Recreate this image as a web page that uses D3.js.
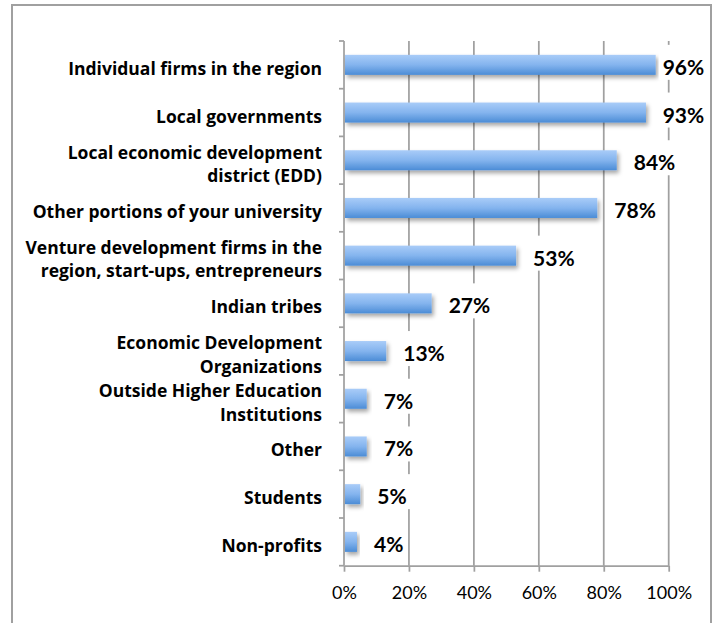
<!DOCTYPE html>
<html>
<head>
<meta charset="utf-8">
<script src="https://cdn.jsdelivr.net/npm/d3@7/dist/d3.min.js"></script>
<style>
  html, body { margin: 0; padding: 0; background: #fff; }
  svg { display: block; }
  text { font-family: Lato, "Open Sans", sans-serif; fill: #000; }
  text.cat { font-family: "Open Sans", Lato, sans-serif; }
</style>
</head>
<body>
<svg id="chart" width="716" height="623"></svg>
<script>
// Partner types (line breaks mark wrapped labels) and share of respondents
const categories = [
  "Individual firms in the region",
  "Local governments",
  "Local economic development\ndistrict (EDD)",
  "Other portions of your university",
  "Venture development firms in the\nregion, start-ups, entrepreneurs",
  "Indian tribes",
  "Economic Development\nOrganizations",
  "Outside Higher Education\nInstitutions",
  "Other",
  "Students",
  "Non-profits"
];
const values = [0.96, 0.93, 0.84, 0.78, 0.53, 0.27, 0.13, 0.07, 0.07, 0.05, 0.04];
const tickValues = [0, 0.2, 0.4, 0.6, 0.8, 1.0];

const W = 716, H = 623;
const plot = { left: 344, right: 668.7, top: 41, bottom: 565.7 };
const gridColor = "#a0a0a0";

const svg = d3.select("#chart");

const defs = svg.append("defs");
const grad = defs.append("linearGradient")
  .attr("id", "barFill").attr("x1", 0).attr("y1", 0).attr("x2", 0).attr("y2", 1);
grad.append("stop").attr("offset", "0%").attr("stop-color", "#a9ccf8");
grad.append("stop").attr("offset", "50%").attr("stop-color", "#84b4ee");
grad.append("stop").attr("offset", "100%").attr("stop-color", "#4b8cd6");

const shadow = defs.append("filter").attr("id", "barShadow")
  .attr("x", "-10%").attr("y", "-30%").attr("width", "130%").attr("height", "180%");
shadow.append("feDropShadow")
  .attr("dx", 2).attr("dy", 3).attr("stdDeviation", 2)
  .attr("flood-color", "#000").attr("flood-opacity", 0.35);

// Outer frame
svg.append("rect")
  .attr("x", 12).attr("y", 5).attr("width", 699).attr("height", H + 20)
  .attr("fill", "#fff").attr("stroke", gridColor).attr("stroke-width", 2);

const x = d3.scaleLinear().domain([0, 1]).range([plot.left, plot.right]);
const y = d3.scaleBand().domain(categories).range([plot.top, plot.bottom])
  .paddingInner(0.58).paddingOuter(0.29);
const step = y.step();

// Vertical gridlines
svg.append("g").selectAll("line")
  .data(tickValues.slice(1))
  .join("line")
  .attr("x1", d => x(d)).attr("x2", d => x(d))
  .attr("y1", plot.top).attr("y2", plot.bottom)
  .attr("stroke", gridColor).attr("stroke-width", 1.75);

// Bottom axis
const xAxis = svg.append("g")
  .attr("transform", `translate(0,${plot.bottom})`)
  .call(d3.axisBottom(x).tickValues(tickValues).tickFormat(d3.format(".0%"))
    .tickSizeInner(6).tickSizeOuter(0).tickPadding(15));
xAxis.select(".domain").attr("stroke", gridColor).attr("stroke-width", 1.75);
xAxis.selectAll(".tick line").attr("stroke", gridColor).attr("stroke-width", 1.75);
xAxis.selectAll(".tick text").attr("font-size", 18).attr("fill", "#000");

// Left axis with ticks at category boundaries
const leftAxis = svg.append("g");
leftAxis.append("line")
  .attr("x1", plot.left).attr("x2", plot.left)
  .attr("y1", plot.top).attr("y2", plot.bottom)
  .attr("stroke", gridColor).attr("stroke-width", 1.75);
leftAxis.selectAll(".btick")
  .data(d3.range(categories.length + 1))
  .join("line").attr("class", "btick")
  .attr("x1", plot.left - 5).attr("x2", plot.left)
  .attr("y1", i => plot.top + i * step).attr("y2", i => plot.top + i * step)
  .attr("stroke", gridColor).attr("stroke-width", 1.75);

const rows = categories.map((c, i) => ({ c, v: values[i] }));

// Value labels with white backing boxes
const labelLayer = svg.append("g");
const labelMax = x(1) - 6;
const valueLabels = labelLayer.selectAll("g.vl")
  .data(rows).join("g").attr("class", "vl");
valueLabels.append("rect").attr("fill", "#fff");
valueLabels.append("text")
  .attr("x", d => Math.min(x(d.v) + 17, labelMax))
  .attr("y", d => y(d.c) + y.bandwidth() / 2 + 10)
  .attr("font-size", 21).attr("font-weight", 700)
  .text(d => d3.format(".0%")(d.v));
valueLabels.each(function(d) {
  const g = d3.select(this);
  const bb = g.select("text").node().getBBox();
  const cy = y(d.c) + y.bandwidth() / 2;
  g.select("rect")
    .attr("x", bb.x - 4).attr("width", bb.width + 8)
    .attr("y", cy - 20).attr("height", 35);
});

// Bars
svg.append("g").selectAll("rect")
  .data(rows).join("rect")
  .attr("x", x(0) + 1)
  .attr("y", d => y(d.c))
  .attr("width", d => x(d.v) - x(0) - 1)
  .attr("height", y.bandwidth())
  .attr("fill", "url(#barFill)")
  .attr("filter", "url(#barShadow)");

labelLayer.raise();

// Category labels, right aligned, wrapped on line breaks
const lineH = 23.5;
svg.append("g").selectAll("text")
  .data(rows).join("text")
  .attr("class", "cat")
  .attr("text-anchor", "end")
  .attr("font-size", 17.5).attr("font-weight", 700)
  .each(function(d) {
    const lines = d.c.split("\n");
    const cy = y(d.c) + y.bandwidth() / 2;
    d3.select(this).selectAll("tspan")
      .data(lines).join("tspan")
      .attr("x", 322)
      .attr("y", (l, i) => cy + 10 + (i - (lines.length - 1) / 2) * lineH)
      .text(l => l);
  });
</script>
</body>
</html>
